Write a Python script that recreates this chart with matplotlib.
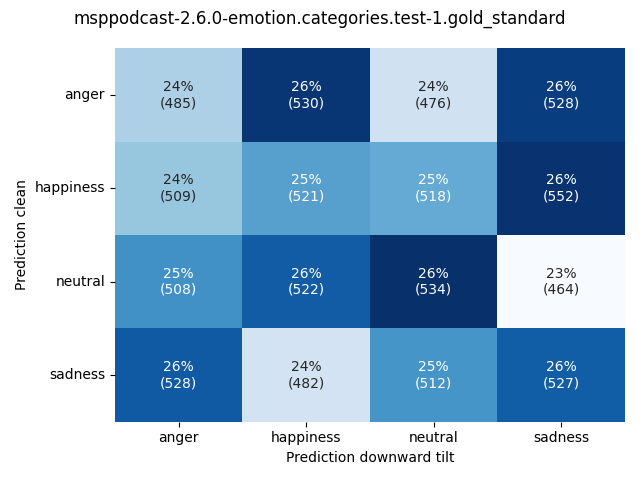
import matplotlib
matplotlib.use("Agg")
import matplotlib.pyplot as plt
import numpy as np
import seaborn as sns

labels = ["anger", "happiness", "neutral", "sadness"]

# rows: Prediction clean, columns: Prediction downward tilt
counts_anger = [485, 530, 476, 528]
counts_happiness = [509, 521, 518, 552]
counts_neutral = [508, 522, 534, 464]
counts_sadness = [528, 482, 512, 527]

counts = np.array([counts_anger, counts_happiness, counts_neutral, counts_sadness])
perc = counts / counts.sum(axis=1, keepdims=True) * 100

annot = np.empty(counts.shape, dtype=object)
for i in range(counts.shape[0]):
    for j in range(counts.shape[1]):
        annot[i, j] = "%d%%\n(%d)" % (round(perc[i, j]), counts[i, j])

fig, ax = plt.subplots(figsize=(6.4, 4.8), dpi=100)
sns.heatmap(perc, annot=annot, fmt="", cmap="Blues", cbar=False,
            xticklabels=labels, yticklabels=labels, ax=ax)
ax.set_yticklabels(labels, rotation=0)
ax.set_xlabel("Prediction downward tilt")
ax.set_ylabel("Prediction clean")
fig.suptitle("msppodcast-2.6.0-emotion.categories.test-1.gold_standard")
fig.tight_layout()
fig.savefig("out.png")
